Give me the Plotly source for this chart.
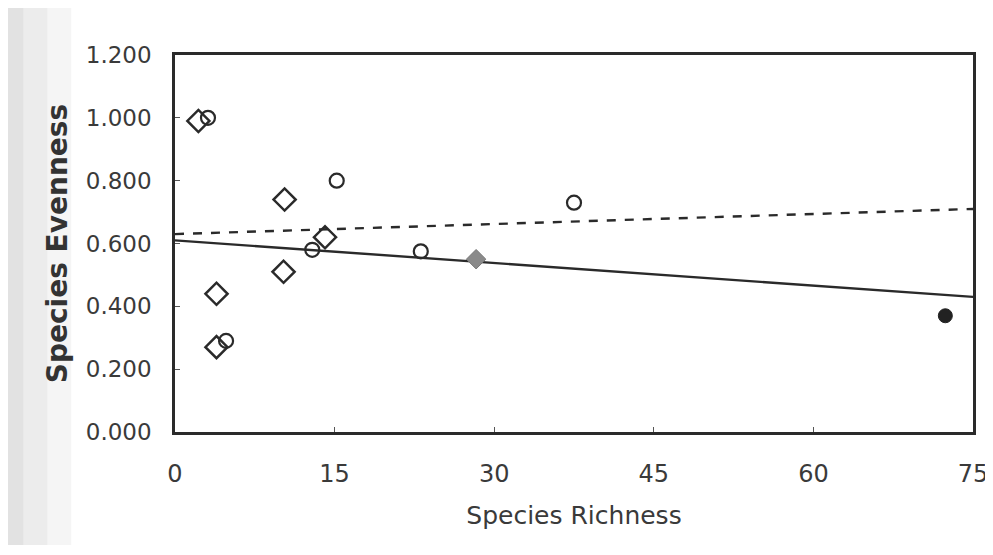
import plotly.graph_objects as go

# data
diamond_x = [2.2, 3.9, 3.9, 10.3, 10.2, 14.1]
diamond_y = [0.99, 0.44, 0.27, 0.74, 0.51, 0.62]
circle_x = [3.1, 4.8, 12.9, 15.2, 23.1, 37.5]
circle_y = [1.00, 0.29, 0.58, 0.80, 0.575, 0.73]
gray_x = [28.3]
gray_y = [0.55]
black_x = [72.4]
black_y = [0.37]
solid_x = [0, 75]
solid_y = [0.61, 0.43]
dash_x = [0, 75]
dash_y = [0.63, 0.71]
x_ticks = [0, 15, 30, 45, 60, 75]
y_ticks = [0.0, 0.2, 0.4, 0.6, 0.8, 1.0, 1.2]
y_labels = ["0.000", "0.200", "0.400", "0.600", "0.800", "1.000", "1.200"]

ink = "#2a2a2a"
fig = go.Figure()
fig.add_trace(go.Scatter(x=solid_x, y=solid_y, mode="lines",
                         line=dict(color=ink, width=2.4), showlegend=False))
fig.add_trace(go.Scatter(x=dash_x, y=dash_y, mode="lines",
                         line=dict(color=ink, width=2.4, dash="dash"), showlegend=False))
fig.add_trace(go.Scatter(x=diamond_x, y=diamond_y, mode="markers",
                         marker=dict(symbol="diamond-open", size=17, color=ink,
                                     line=dict(width=2.5, color=ink)), showlegend=False))
fig.add_trace(go.Scatter(x=circle_x, y=circle_y, mode="markers",
                         marker=dict(symbol="circle-open", size=14, color=ink,
                                     line=dict(width=2.2, color=ink)), showlegend=False))
fig.add_trace(go.Scatter(x=gray_x, y=gray_y, mode="markers",
                         marker=dict(symbol="diamond", size=15, color="#8a8a8a",
                                     line=dict(width=1, color="#777")), showlegend=False))
fig.add_trace(go.Scatter(x=black_x, y=black_y, mode="markers",
                         marker=dict(symbol="circle", size=14, color="#222",
                                     line=dict(width=1, color="#222")), showlegend=False))

# scanned grey band at the left edge
bands = [(-0.23, -0.19, 0.30), (-0.19, -0.16, 0.20), (-0.16, -0.13, 0.10)]
shapes = [dict(type="rect", xref="paper", yref="paper", x0=a, x1=b,
               y0=-0.3, y1=1.2, fillcolor=f"rgba(160,160,160,{al})",
               line=dict(width=0), layer="below") for a, b, al in bands]

fig.update_layout(
    width=985, height=539,
    margin=dict(l=167, r=20, t=47, b=115),
    paper_bgcolor="white", plot_bgcolor="white",
    font=dict(family="DejaVu Sans", color="#3a3a3a", size=23),
    shapes=shapes,
)
fig.update_xaxes(range=[0, 75], tickvals=x_ticks, ticks="inside", ticklen=5,
                 tickcolor="#555", showgrid=False, zeroline=False, automargin=False,
                 showline=True, linecolor=ink, linewidth=2.5, mirror=True,
                 ticklabelstandoff=18, tickfont=dict(size=24), ticklabeloverflow="allow",
                 title=dict(text="Species Richness", font=dict(size=25, color="#3a3a3a"), standoff=20))
fig.update_yaxes(range=[0, 1.2], tickvals=y_ticks, ticktext=y_labels, ticks="inside",
                 ticklen=5, tickcolor="#555", showgrid=False, zeroline=False, automargin=False,
                 showline=True, linecolor=ink, linewidth=2.5, mirror=True,
                 ticklabelstandoff=16,
                 title=dict(text="<b>Species Evenness</b>", font=dict(size=28, color="#333"), standoff=10))

fig.write_html("out.html")
